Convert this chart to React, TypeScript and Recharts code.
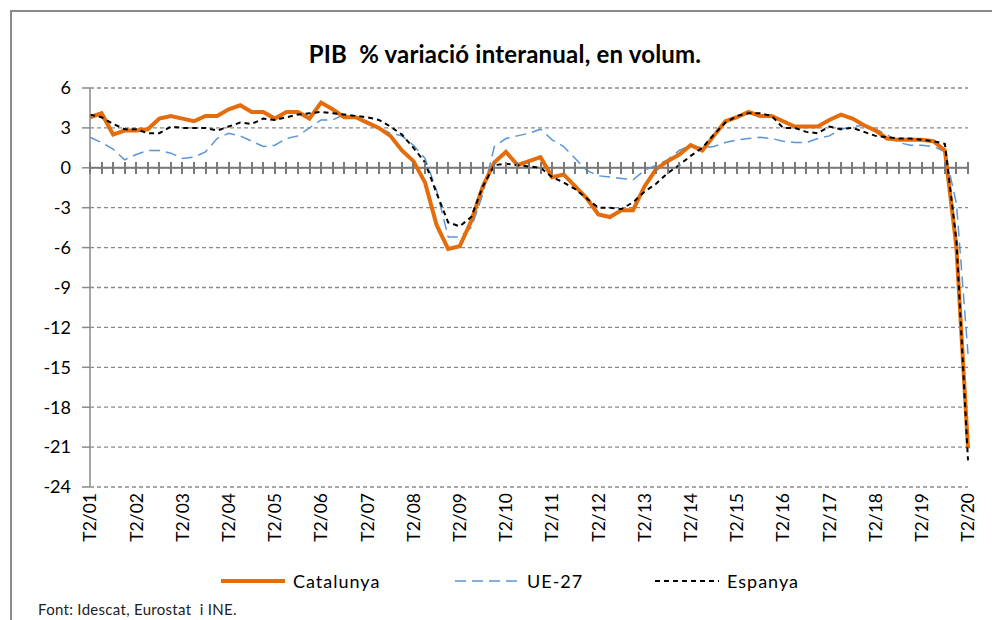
import { LineChart, Line, XAxis, YAxis, CartesianGrid, ReferenceLine, Legend } from 'recharts';

// quarters T2/01 .. T2/20
const firstYear = 2001;
const lastYear = 2020;
const quarters: string[] = [];
for (let y = firstYear; y <= lastYear; y++) {
    for (let q = 1; q <= 4; q++) {
        if (y === firstYear && q < 2) continue;
        if (y === lastYear && q > 2) continue;
        quarters.push(`T${q}/${String(y).slice(2)}`);
    }
}

const catalunya = [
    3.8, 4.1, 2.5, 2.8, 2.8, 2.9, 3.7, 3.9, 3.7, 3.5, 3.9, 3.9, 4.4, 4.7, 4.2, 4.2,
    3.7, 4.2, 4.2, 3.7, 4.9, 4.4, 3.8, 3.8, 3.4, 3.0, 2.4, 1.3, 0.5, -1.1, -4.3, -6.1,
    -5.9, -4.0, -1.4, 0.4, 1.2, 0.2, 0.5, 0.8, -0.7, -0.5, -1.4, -2.3, -3.5, -3.7, -3.2, -3.2,
    -1.4, -0.1, 0.5, 1.0, 1.7, 1.3, 2.4, 3.5, 3.8, 4.2, 3.9, 3.9, 3.5, 3.1, 3.1, 3.1,
    3.6, 4.0, 3.7, 3.2, 2.8, 2.2, 2.1, 2.1, 2.1, 2.0, 1.3, -6.0, -21.1,
];

const ue27 = [
    2.3, 1.9, 1.4, 0.6, 1.0, 1.3, 1.3, 1.1, 0.7, 0.8, 1.2, 2.2, 2.6, 2.4, 2.0, 1.6,
    1.7, 2.2, 2.4, 3.0, 3.6, 3.6, 4.0, 3.8, 3.3, 3.0, 2.6, 2.4, 1.7, 0.7, -1.7, -5.2,
    -5.2, -4.5, -2.0, 1.6, 2.2, 2.4, 2.6, 2.9, 2.1, 1.6, 0.7, -0.2, -0.6, -0.7, -0.8, -0.9,
    -0.2, 0.2, 0.6, 1.3, 1.7, 1.5, 1.6, 1.9, 2.1, 2.2, 2.3, 2.2, 2.0, 1.9, 1.9, 2.2,
    2.4, 2.9, 3.1, 3.2, 2.9, 2.5, 1.9, 1.7, 1.7, 1.6, 1.2, -2.7, -14.0,
];

const espanya = [
    4.0, 3.8, 3.3, 2.9, 2.9, 2.6, 2.6, 3.1, 3.0, 3.0, 3.0, 2.8, 3.1, 3.4, 3.3, 3.7,
    3.6, 3.8, 4.0, 4.1, 4.2, 4.1, 4.0, 3.9, 3.8, 3.6, 3.1, 2.5, 1.5, 0.4, -1.9, -4.1,
    -4.4, -3.7, -1.4, 0.2, 0.3, 0.2, 0.1, 0.0, -0.7, -1.1, -1.6, -2.3, -3.0, -3.0, -3.1, -2.6,
    -1.8, -1.2, -0.4, 0.2, 0.9, 1.5, 2.5, 3.4, 3.9, 4.1, 4.1, 3.9, 3.0, 3.0, 2.7, 2.6,
    3.1, 2.9, 3.0, 2.7, 2.4, 2.3, 2.2, 2.2, 2.1, 2.0, 1.8, -5.5, -22.0,
];

const yTicks = [6, 3, 0, -3, -6, -9, -12, -15, -18, -21, -24];

const data = quarters.map((q, i) => ({
    q,
    Catalunya: catalunya[i],
    'UE-27': ue27[i],
    Espanya: espanya[i],
}));

const W = 992;
const H = 620;
const PLOT_TOP = 88;
const PLOT_H = 399;
const ZERO_Y = Math.round(PLOT_TOP + PLOT_H * (6 / 30));
const AXIS_GREY = '#8a8a8a';
const TICK_GREY = '#7a7a7a';
const FONT = 'Lato, "Open Sans", sans-serif';

// every quarter gets a cross tick on the zero axis, every 4th a rotated label at the bottom
function QuarterTick(props: any) {
    const { x, payload } = props;
    const idx = payload.index ?? props.index;
    const labelY = PLOT_TOP + PLOT_H + 6;
    const tx = Math.round(x);
    return (
        <g>
            <path d={`M${tx},${ZERO_Y - 6}V${ZERO_Y + 6}`} stroke={TICK_GREY} strokeWidth={2} fill="none" />
            {idx % 4 === 0 && (
                <text
                    x={x}
                    y={labelY}
                    dy="0.36em"
                    transform={`rotate(-90, ${x}, ${labelY})`}
                    textAnchor="end"
                    fontSize={17.5}
                    fontFamily={FONT}
                    fill="#000"
                >
                    {payload.value}
                </text>
            )}
        </g>
    );
}

function LegendBox() {
    const item = (left: number, label: string, stroke: string, width: number, dash?: string) => (
        <div style={{ position: 'absolute', left, top: 0, height: 22, display: 'flex', alignItems: 'center' }}>
            <svg width={66} height={10} style={{ marginRight: 6 }}>
                <line x1={0} x2={64} y1={5} y2={5} stroke={stroke} strokeWidth={width} strokeDasharray={dash} />
            </svg>
            <span style={{ fontSize: 18, letterSpacing: 1, fontFamily: FONT, color: '#000' }}>{label}</span>
        </div>
    );
    return (
        <div style={{ position: 'relative', height: 50, width: 968 }}>
            {item(221, 'Catalunya', '#e46c0a', 4)}
            {item(455, 'UE-27', '#5b95d6', 1.5, '11 6')}
            {item(655, 'Espanya', '#000', 2, '5 4')}
            <div style={{ position: 'absolute', left: 38, top: 30, fontSize: 15, letterSpacing: 0.3, fontFamily: FONT, color: '#222', whiteSpace: 'pre' }}>
                Font: Idescat, Eurostat  i INE.
            </div>
        </div>
    );
}

export default function App() {
    return (
        <div style={{ position: 'absolute', left: 0, top: 0, width: W, height: H, overflow: 'hidden', background: '#fff' }}>
            <div style={{ position: 'absolute', left: 10, top: 10, width: 1000, height: 700, border: `2px solid ${AXIS_GREY}` }} />
            <div style={{ position: 'absolute', left: 0, top: 39, width: 1010, textAlign: 'center', fontFamily: FONT, fontWeight: 700, fontSize: 24, letterSpacing: 0.2, color: '#000', whiteSpace: 'pre' }}>
                PIB  % variació interanual, en volum.
            </div>
            <div style={{ position: 'absolute', left: 0, top: 0 }}>
                <LineChart width={W} height={H} data={data} margin={{ top: PLOT_TOP, right: 24, left: 0, bottom: 0 }}>
                    <CartesianGrid vertical={false} stroke={AXIS_GREY} strokeDasharray="4 3" strokeWidth={1.3} />
                    <XAxis dataKey="q" interval={0} height={83} tick={<QuarterTick />} tickLine={false} axisLine={false} />
                    <YAxis
                        type="number"
                        domain={[-24, 6]}
                        ticks={yTicks}
                        interval={0}
                        width={90}
                        tickSize={8}
                        tickMargin={11}
                        tick={{ fill: '#000', fontSize: 18, fontFamily: FONT }}
                        axisLine={{ stroke: AXIS_GREY, strokeWidth: 1.5 }}
                        tickLine={{ stroke: AXIS_GREY, strokeWidth: 1.5 }}
                    />
                    <ReferenceLine y={0} stroke={TICK_GREY} strokeWidth={2} />
                    <Line type="linear" dataKey="UE-27" stroke="#5b95d6" strokeWidth={1.5} strokeDasharray="11 6" dot={false} isAnimationActive={false} />
                    <Line type="linear" dataKey="Catalunya" stroke="#e46c0a" strokeWidth={4} dot={false} isAnimationActive={false} />
                    <Line type="linear" dataKey="Espanya" stroke="#000" strokeWidth={2} strokeDasharray="5 4" dot={false} isAnimationActive={false} />
                    <Legend verticalAlign="bottom" height={50} content={<LegendBox />} />
                </LineChart>
            </div>
        </div>
    );
}
